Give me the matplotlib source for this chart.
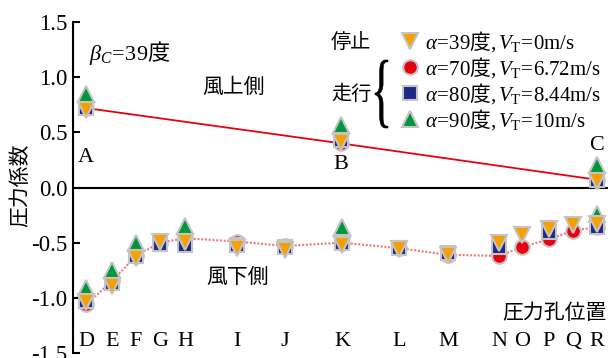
import numpy as np
import matplotlib
matplotlib.use('Agg')
import matplotlib.pyplot as plt
from matplotlib.textpath import TextPath
from matplotlib.patches import PathPatch
from matplotlib.font_manager import FontProperties
from matplotlib.transforms import Affine2D, IdentityTransform

plt.rcParams['font.family'] = ['Liberation Serif', 'Noto Sans CJK JP']
plt.rcParams['mathtext.fontset'] = 'custom'
plt.rcParams['mathtext.rm'] = 'Liberation Serif'
plt.rcParams['mathtext.it'] = 'Liberation Serif:italic'

# tap positions along the surface (windward A-C, leeward D-R)
up_labels = ['A', 'B', 'C']
up_pos = [0, 255, 511]
low_labels = ['D', 'E', 'F', 'G', 'H', 'I', 'J', 'K', 'L', 'M', 'N', 'O', 'P', 'Q', 'R']
low_pos = [0, 26, 50, 74, 99, 151, 199, 256, 313, 362, 413, 436, 463, 487, 511]

nan = np.nan
# pressure coefficients
cp39_up = [0.70, 0.41, 0.06]
cp39_low = [-1.04, -0.89, -0.64, -0.49, -0.49, -0.55, -0.57, -0.52, -0.56, -0.61,
            -0.50, -0.43, -0.38, -0.34, -0.33]
cp70_up = [0.72, 0.40, 0.07]
cp70_low = [-1.06, -0.85, -0.62, -0.50, -0.46, -0.49, -0.53, -0.50, -0.55, -0.61,
            -0.62, -0.54, -0.47, -0.39, -0.36]
cp80_up = [0.72, 0.43, 0.07]
cp80_low = [-1.03, -0.87, -0.62, -0.51, -0.52, -0.52, -0.54, -0.50, -0.55, -0.59,
            -0.54, nan, -0.40, nan, -0.36]
cp90_up = [0.85, 0.57, 0.20]
cp90_low = [-0.91, -0.75, -0.50, nan, -0.35, nan, nan, -0.36, nan, nan,
            nan, nan, nan, nan, -0.24]

labels = [r'$\alpha\!=\!\mathrm{39}$度$\mathrm{,}\,V_\mathrm{T}\!=\!\mathrm{0m/s}$',
          r'$\alpha\!=\!\mathrm{70}$度$\mathrm{,}\,V_\mathrm{T}\!=\!\mathrm{6.72m/s}$',
          r'$\alpha\!=\!\mathrm{80}$度$\mathrm{,}\,V_\mathrm{T}\!=\!\mathrm{8.44m/s}$',
          r'$\alpha\!=\!\mathrm{90}$度$\mathrm{,}\,V_\mathrm{T}\!=\!\mathrm{10m/s}$']

fig = plt.figure(figsize=(6.08, 3.58), dpi=100)
ax = fig.add_axes([73/608, 5/358, 535/608, 331/358])
ax.set_xlim(-13, 522)
ax.set_ylim(-1.5, 1.5)

# lines through the alpha=70 series
ax.plot(up_pos, cp70_up, color='#e60012', lw=1.3, zorder=2)
ax.plot(low_pos, cp70_low, color='#f07878', lw=1.5, ls=(0, (1, 0.8)), zorder=2)

edge = '#c4c4c4'
styles = [
    (cp70_up, cp70_low, 'o', '#e60012', 10.5, 3),
    (cp80_up, cp80_low, 's', '#1c2a84', 10, 4),
    (cp90_up, cp90_low, '^', '#00963c', 11.5, 5),
    (cp39_up, cp39_low, 'v', '#f5a000', 11.5, 6),
]
handles = {}
for up, low, mk, col, ms, z in styles:
    ax.plot(up_pos, up, ls='none', marker=mk, ms=ms, mfc=col, mec=edge, mew=1.5, zorder=z)
    h, = ax.plot(low_pos, low, ls='none', marker=mk, ms=ms, mfc=col, mec=edge, mew=1.5, zorder=z)
    handles[mk] = h

ax.axhline(0, color='k', lw=1.5, zorder=1)

for s in ['top', 'right', 'bottom']:
    ax.spines[s].set_visible(False)
ax.spines['left'].set_linewidth(1.5)
ax.set_xticks([])
ax.set_yticks([-1.5, -1.0, -0.5, 0.0, 0.5, 1.0, 1.5])
ax.set_yticklabels(['-1.5', '-1.0', '-0.5', '0.0', '0.5', '1.0', '1.5'])
ax.tick_params(axis='y', direction='in', length=5, width=1.5, labelsize=16.5, pad=4)

# tap letters
up_text_y = [0.27, 0.21, 0.38]
for lab, x, y in zip(up_labels, up_pos, up_text_y):
    ax.text(x, y, lab, ha='center', va='center', fontsize=16)
for lab, x in zip(low_labels, low_pos):
    ax.text(x, -1.40, lab, ha='center', va='center', fontsize=16)

cjk = 'Noto Sans CJK JP'
ax.text(0.03, 0.905, r'$\beta_C\!=\!\mathrm{39}$度', transform=ax.transAxes, family=cjk,
        fontsize=16, ha='left', va='center')
ax.text(0.301, 0.804, '風上側', transform=ax.transAxes, family=cjk, fontsize=15,
        ha='center', va='center')
ax.text(0.307, 0.230, '風下側', transform=ax.transAxes, family=cjk, fontsize=15,
        ha='center', va='center')
ax.text(0.998, 0.12, '圧力孔位置', transform=ax.transAxes, family=cjk, fontsize=15,
        ha='right', va='center')
fig.text(20/608, 1-185/358, '圧力係数', family=cjk, fontsize=15, rotation=90,
         ha='center', va='center')
fig.text(351/608, 1-42/358, '停止', family=cjk, fontsize=14.5, ha='center', va='center')
fig.text(351/608, 1-94/358, '走行', family=cjk, fontsize=14.5, ha='center', va='center')

leg = ax.legend([handles['v'], handles['o'], handles['s'], handles['^']], labels,
                loc='upper left', bbox_to_anchor=(400/608, 1-29/358),
                bbox_transform=fig.transFigure, frameon=False,
                prop=FontProperties(family=cjk, size=15),
                handlelength=1.0, handletextpad=0.22, labelspacing=0.05,
                borderpad=0, borderaxespad=0)

# curly brace grouping the moving cases
tp = TextPath((0, 0), '{', size=50, prop=FontProperties(family='Liberation Serif'))
ext = tp.get_extents()
bx0, bx1, by0, by1 = 375, 388, 358-128, 358-60
tr = (Affine2D().translate(-ext.x0, -ext.y0)
      .scale((bx1-bx0)/ext.width, (by1-by0)/ext.height)
      .translate(bx0, by0))
fig.add_artist(PathPatch(tr.transform_path(tp), color='k', lw=0.4,
                         transform=IdentityTransform()))

fig.savefig('out.png', dpi=100)
